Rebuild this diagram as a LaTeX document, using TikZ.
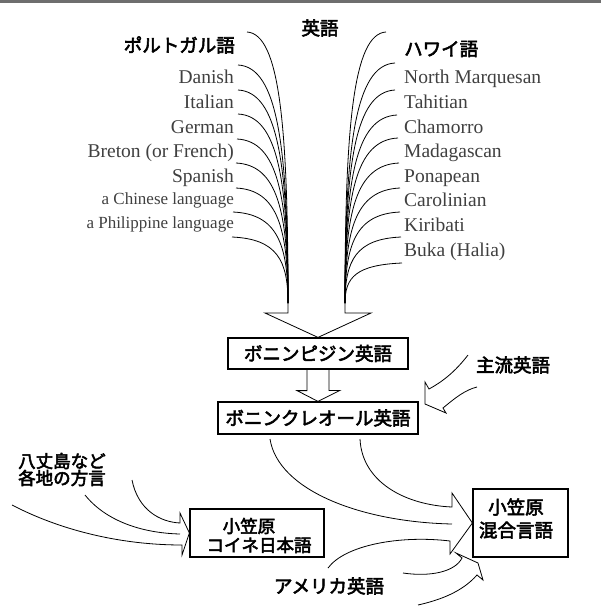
\documentclass[tikz,border=0pt]{standalone}
\usepackage{fontspec}
\setmainfont{Liberation Serif}
\newfontfamily\jp{Noto Sans CJK JP}[FakeBold=3]
\begin{document}
\begin{tikzpicture}[x=1pt,y=-1pt,
  lab/.style={font=\fontsize{19.5}{19.5}\selectfont, text=black!75, inner sep=0},
  labs/.style={font=\fontsize{17}{17}\selectfont, text=black!75, inner sep=0},
  jlab/.style={font=\jp\fontsize{18.5}{22}\selectfont, inner sep=0},
  jsm/.style={font=\jp\fontsize{17.5}{22}\selectfont, inner sep=0},
  boxn/.style={draw, line width=1.2pt, inner sep=0},
  ln/.style={line width=0.8pt, line join=miter}]
\useasboundingbox (0,0) rectangle (601,608);
\fill[black!57] (0,0) rectangle (601,2.5);

% Japanese labels
\node[jlab] (eigo) at (320,28) {英語};
\node[jlab, anchor=east] (por) at (235,45) {ポルトガル語};
\node[jlab, anchor=west] (haw) at (404,49) {ハワイ語};
\node[jlab] (main) at (513,365) {主流英語};
\node[jsm, anchor=west] (hachi1) at (18,461) {八丈島など};
\node[jsm, anchor=west] (hachi2) at (18,478) {各地の方言};
\node[jlab] (amer) at (329,586) {アメリカ英語};

% left labels
\node[lab, anchor=base east] (dan) at (234,83) {Danish};
\node[lab, anchor=base east] (ita) at (234,108) {Italian};
\node[lab, anchor=base east] (ger) at (234,133) {German};
\node[lab, anchor=base east] (bre) at (234,157) {Breton (or French)};
\node[lab, anchor=base east] (spa) at (234,182) {Spanish};
\node[labs, anchor=base east] (chi) at (234,204) {a Chinese language};
\node[labs, anchor=base east] (phi) at (234,228) {a Philippine language};

% right labels
\node[lab, anchor=base west] (nm) at (404,83) {North Marquesan};
\node[lab, anchor=base west] (tah) at (404,108) {Tahitian};
\node[lab, anchor=base west] (cha) at (404,133) {Chamorro};
\node[lab, anchor=base west] (mad) at (404,157) {Madagascan};
\node[lab, anchor=base west] (pon) at (404,182) {Ponapean};
\node[lab, anchor=base west] (car) at (404,206) {Carolinian};
\node[lab, anchor=base west] (kir) at (404,231) {Kiribati};
\node[lab, anchor=base west] (buk) at (404,256) {Buka (Halia)};

% boxes
\node[boxn, jlab, draw, line width=1.2pt, minimum width=180, minimum height=31] (pidgin) at (318,353.5) {ボニンピジン英語};
\node[boxn, jlab, draw, line width=1.2pt, minimum width=200, minimum height=32] (creole) at (318,418) {ボニンクレオール英語};
\node[boxn, minimum width=134, minimum height=48] (koine) at (257,533) {};
\node[jsm] (koine1) at (249,526) {小笠原};
\node[jsm] (koine2) at (259,545) {コイネ日本語};
\node[boxn, minimum width=95, minimum height=68] (mix) at (520.5,523) {};
\node[jlab, align=center, font=\jp\fontsize{18.5}{23}\selectfont] (mixt) at (516,518.5) {小笠原\\混合言語};

% fan
\coordinate (fanL) at (288,303);
\coordinate (fanR) at (345,303);
\foreach \n/\x/\y in {1/247/32,2/238/65,3/238/90,4/238/114,5/237/139,6/236/163,7/236/188,8/233/212,9/232/237}{
  \pgfmathsetmacro\cx{\x+0.8*(288-\x)}
  \pgfmathsetmacro\cy{\y+0.35*(303-\y)}
  \coordinate (L\n) at (\x,\y);
  \draw[ln] (L\n) .. controls (\cx,\y+2) and (288,\cy) .. (fanL);
}
\foreach \n/\x/\y in {1/386/32,2/395/63,3/395/90,4/397/115,5/398/138,6/399/163,7/400/188,8/400/212,9/401/237,10/402/263}{
  \pgfmathsetmacro\cx{\x-0.8*(\x-345)}
  \pgfmathsetmacro\cy{\y+0.35*(303-\y)}
  \coordinate (R\n) at (\x,\y);
  \draw[ln] (R\n) .. controls (\cx,\y+2) and (345,\cy) .. (fanR);
}
\draw[ln] (fanL) -- (288,313) -- (265,313) -- (pidgin.north) -- (371,313) -- (345,313) -- (fanR);

% pidgin -> creole
\draw[ln] ([xshift=-11pt]pidgin.south) -- ++(0,21) -- ++(-10,0) -- (creole.north)
  -- ([xshift=22pt,yshift=11pt]creole.north) -- ++(-11,0) -- ([xshift=11pt]pidgin.south);

% mainstream English -> creole
\coordinate (m1) at (468,355);
\coordinate (m2) at (477,387);
\draw[ln] (m1) .. controls (455,372) and (442,382) .. (429,389) -- (425,382) -- (425,404)
  -- (446,413) -- (443,408) .. controls (455,398) and (465,390) .. (m2);

% dialects -> koine
\coordinate (k1) at (132,480);
\coordinate (k2) at (85,495);
\coordinate (k3) at (12,505);
\draw[ln] (k1) .. controls (138,510) and (160,522) .. (180,523) -- (180,513) -- (koine.west)
  -- (182,555) -- (182,545) .. controls (120,545) and (60,530) .. (k3);
\draw[ln] (k2) .. controls (105,520) and (140,533) .. (180,534);

% -> mix
\coordinate (x1) at (360,439);
\coordinate (x2) at (270,439);
\coordinate (x3) at (328,568);
\draw[ln] (x1) .. controls (362,482) and (405,505) .. (452,507) -- (452,493) -- (mix.west)
  -- (450,554) -- (450,541) .. controls (400,535) and (345,545) .. (x3);
\draw[ln] (x2) .. controls (278,490) and (360,522) .. (452,524);

% American English -> mix
\coordinate (a1) at (403,573);
\coordinate (a2) at (418,605);
\draw[ln] (a1) .. controls (430,577) and (455,572) .. (462,558) -- (456,553) -- (478,563)
  -- (483,580) -- (477,575) .. controls (462,592) and (440,600) .. (a2);
\end{tikzpicture}
\end{document}
